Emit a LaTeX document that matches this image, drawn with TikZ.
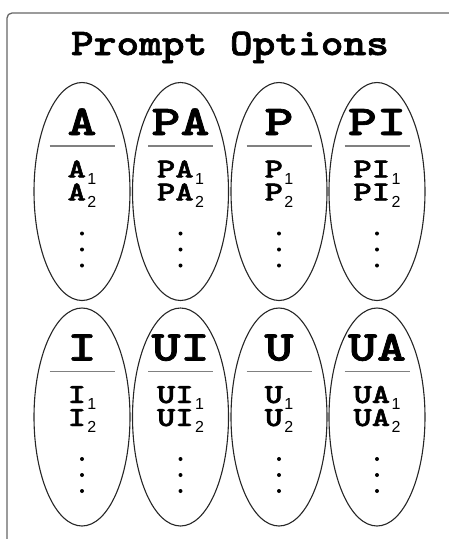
\documentclass[tikz,border=0pt]{standalone}
\usepackage{fontspec}
\newfontfamily\sansf{Liberation Sans}
\newfontfamily\lmb{lmmonolt10-bold}[Extension=.otf, FakeBold=1.6]
\usetikzlibrary{shapes.geometric}
\newcommand\sbx[1]{\kern1.5pt\raisebox{-6.5pt}[0pt][0pt]{\sansf\fontsize{16}{16}\selectfont #1}}
\newcommand\wideX[2]{\scalebox{#1}[1]{#2}}
\tikzset{
  frame/.style={draw=black!60, line width=1.3pt, rounded corners=5pt},
  oval/.style={ellipse, draw=black!85, line width=1.1pt, minimum width=96pt, minimum height=218pt, inner sep=0pt},
  title/.style={anchor=base, inner sep=0pt, font=\lmb\fontsize{37.6}{38}\selectfont},
  head/.style={anchor=base, inner sep=0pt, font=\lmb\fontsize{42.5}{43}\selectfont},
  item/.style={anchor=base, inner sep=0pt, text height=16pt, text depth=2pt, font=\lmb\fontsize{27.5}{28}\selectfont},
  rule/.style={draw=black!50, line width=1.3pt},
  dot/.style={circle, fill=black, inner sep=0pt, minimum size=4pt}
}
\begin{document}
\begin{tikzpicture}[x=1pt,y=-1pt]
\useasboundingbox (0,0) rectangle (448,539);
\draw[frame] (7,560) -- (7,13) -- (470,13);
\node[title] (ttl) at (230,55) {\wideX{1.15}{Prompt Options}};
\foreach \n/\l/\cx/\cy in {a/A/82/191.5, pa/PA/180.5/191.5, p/P/279/191.5, pi/PI/377/191.5,
                           i/I/82/417, ui/UI/180.5/417, u/U/279/417, ua/UA/377/417} {
  \node[oval] (o\n) at (\cx,\cy) {};
  \node[head] (h\n) at ([yshift=56.5pt]o\n.center) {\wideX{1.3}{\l}};
  \coordinate (l\n) at ([yshift=45.5pt]o\n.center);
  \draw[rule] ([xshift=-32.5pt]l\n) -- ([xshift=32.5pt]l\n);
  \node[item] (sa\n) at ([yshift=14pt]o\n.center) {\wideX{1.27}{\l}\sbx{1}};
  \node[item] (sb\n) at ([yshift=-9pt]o\n.center) {\wideX{1.27}{\l}\sbx{2}};
  \node[dot] (da\n) at ([yshift=-42pt]o\n.center) {};
  \node[dot] (db\n) at ([yshift=-58pt]o\n.center) {};
  \node[dot] (dc\n) at ([yshift=-74pt]o\n.center) {};
}
\end{tikzpicture}
\end{document}
